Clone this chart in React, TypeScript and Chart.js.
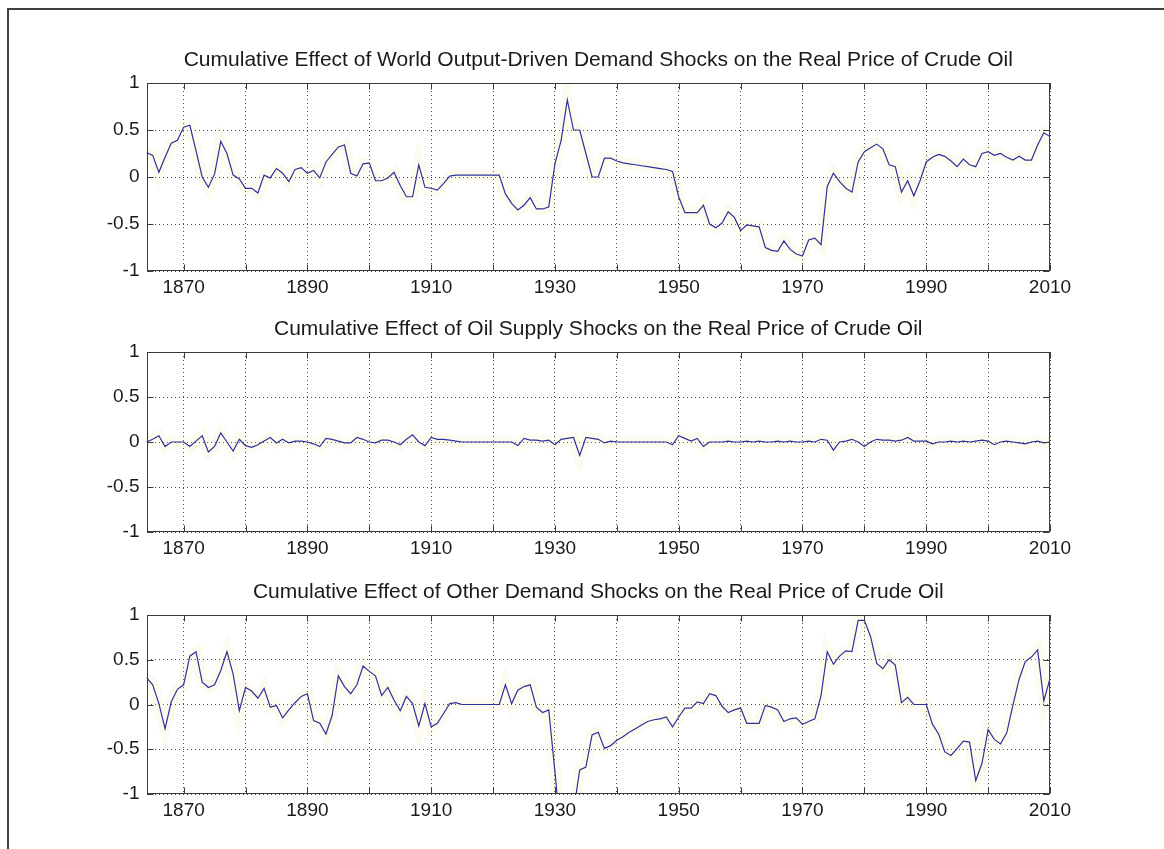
import React, { useEffect, useRef } from "react";
import { Chart, registerables } from "chart.js";

Chart.register(...registerables);

// ---------------- data ----------------
const FIRST_YEAR = 1864;
const LAST_YEAR = 2010;
const YEARS: number[] = [];
for (let y = FIRST_YEAR; y <= LAST_YEAR; y++) YEARS.push(y);

const X_TICKS = [1870, 1880, 1890, 1900, 1910, 1920, 1930, 1940, 1950, 1960, 1970, 1980, 1990, 2000, 2010];
const X_LABELS = [1870, 1890, 1910, 1930, 1950, 1970, 1990, 2010];
const Y_TICKS = [-1, -0.5, 0, 0.5, 1];

const TITLES = [
  "Cumulative Effect of World Output-Driven Demand Shocks on the Real Price of Crude Oil",
  "Cumulative Effect of Oil Supply Shocks on the Real Price of Crude Oil",
  "Cumulative Effect of Other Demand Shocks on the Real Price of Crude Oil",
];

// 1864 ... 2010
const WORLD_OUTPUT = [
  0.26, 0.23, 0.05, 0.21, 0.36, 0.39,
  0.53, 0.55, 0.28, 0.0, -0.11, 0.03, 0.38, 0.25, 0.02, -0.02,
  -0.12, -0.12, -0.17, 0.02, -0.01, 0.09, 0.04, -0.05, 0.08, 0.1,
  0.04, 0.07, -0.01, 0.16, 0.24, 0.32, 0.34, 0.04, 0.01, 0.14,
  0.15, -0.04, -0.04, -0.01, 0.05, -0.09, -0.21, -0.21, 0.13, -0.11,
  -0.12, -0.14, -0.07, 0.01, 0.02, 0.02, 0.02, 0.02, 0.02, 0.02,
  0.02, 0.02, -0.18, -0.28, -0.35, -0.3, -0.22, -0.34, -0.34, -0.32,
  0.14, 0.39, 0.82, 0.5, 0.5, 0.25, 0.0, 0.0, 0.2, 0.2,
  0.17, 0.15, 0.14, 0.13, 0.12, 0.11, 0.1, 0.09, 0.08, 0.06,
  -0.21, -0.38, -0.38, -0.38, -0.3, -0.5, -0.54, -0.49, -0.37, -0.43,
  -0.57, -0.51, -0.52, -0.53, -0.75, -0.78, -0.79, -0.68, -0.77, -0.82,
  -0.84, -0.67, -0.65, -0.72, -0.1, 0.04, -0.05, -0.12, -0.16, 0.16,
  0.27, 0.31, 0.35, 0.3, 0.13, 0.11, -0.16, -0.04, -0.2, -0.04,
  0.16, 0.21, 0.24, 0.22, 0.17, 0.11, 0.19, 0.13, 0.11, 0.25,
  0.27, 0.23, 0.25, 0.21, 0.18, 0.22, 0.18, 0.18, 0.34, 0.47,
  0.43,
];

const OIL_SUPPLY = [
  0.0, 0.03, 0.07, -0.05, 0.0, 0.0,
  0.0, -0.05, 0.01, 0.07, -0.11, -0.05, 0.1, 0.0, -0.1, 0.03,
  -0.04, -0.06, -0.03, 0.01, 0.05, -0.01, 0.03, -0.01, 0.01, 0.01,
  0.0, -0.02, -0.05, 0.04, 0.03, 0.01, -0.01, -0.01, 0.05, 0.03,
  0.0, -0.01, 0.02, 0.02, 0.0, -0.03, 0.03, 0.08, 0.0, -0.04,
  0.05, 0.03, 0.03, 0.02, 0.01, 0.0, 0.0, 0.0, 0.0, 0.0,
  0.0, 0.0, 0.0, 0.0, -0.04, 0.04, 0.02, 0.02, 0.01, 0.02,
  -0.03, 0.03, 0.04, 0.05, -0.15, 0.05, 0.04, 0.03, -0.01, 0.01,
  0.0, 0.0, 0.0, 0.0, 0.0, 0.0, 0.0, 0.0, 0.0, -0.03,
  0.07, 0.04, 0.01, 0.04, -0.05, 0.0, 0.0, 0.0, 0.01, 0.0,
  0.0, 0.01, 0.0, 0.01, 0.0, 0.0, 0.01, 0.0, 0.01, 0.0,
  0.0, 0.01, 0.0, 0.03, 0.02, -0.09, 0.0, 0.01, 0.03, 0.0,
  -0.05, 0.0, 0.03, 0.02, 0.02, 0.01, 0.02, 0.05, 0.01, 0.01,
  0.01, -0.02, 0.0, 0.0, 0.01, 0.0, 0.01, 0.0, 0.01, 0.02,
  0.01, -0.03, 0.0, 0.01, 0.0, -0.01, -0.02, 0.0, 0.01, -0.01,
  0.0,
];

const OTHER_DEMAND = [
  0.3, 0.22, 0.01, -0.27, 0.03, 0.17,
  0.22, 0.54, 0.59, 0.25, 0.19, 0.22, 0.38, 0.59, 0.34, -0.07,
  0.19, 0.15, 0.07, 0.18, -0.03, -0.01, -0.15, -0.06, 0.02, 0.09,
  0.12, -0.18, -0.21, -0.33, -0.12, 0.32, 0.2, 0.12, 0.22, 0.43,
  0.37, 0.32, 0.1, 0.19, 0.05, -0.07, 0.09, 0.01, -0.24, 0.01,
  -0.25, -0.21, -0.1, 0.01, 0.02, 0.0, 0.0, 0.0, 0.0, 0.0,
  0.0, 0.0, 0.22, 0.01, 0.16, 0.2, 0.22, -0.03, -0.09, -0.06,
  -0.75, -1.5, -1.6, -1.2, -0.73, -0.7, -0.34, -0.31, -0.49, -0.46,
  -0.4, -0.36, -0.31, -0.27, -0.23, -0.19, -0.17, -0.16, -0.14, -0.25,
  -0.14, -0.04, -0.04, 0.03, 0.01, 0.12, 0.1, -0.02, -0.09, -0.06,
  -0.04, -0.21, -0.21, -0.21, -0.01, -0.03, -0.06, -0.19, -0.16, -0.15,
  -0.22, -0.19, -0.16, 0.1, 0.59, 0.45, 0.54, 0.6, 0.59, 0.94,
  0.94, 0.76, 0.46, 0.4, 0.5, 0.44, 0.02, 0.08, 0.0, 0.0,
  0.0, -0.22, -0.33, -0.53, -0.57, -0.49, -0.41, -0.42, -0.85, -0.66,
  -0.28, -0.39, -0.44, -0.32, -0.01, 0.28, 0.48, 0.53, 0.61, 0.04,
  0.29,
];

const SERIES = [WORLD_OUTPUT, OIL_SUPPLY, OTHER_DEMAND];

// ---------------- styling / layout ----------------
const FONT = "'Liberation Sans', Arial, Helvetica, sans-serif";
const LINE_COLOR = "#30309a";
const HALO_COLOR = "rgba(240, 228, 160, 0.16)";
const TEXT_COLOR = "#1a1a1a";
const AXIS_COLOR = "#3a3a3a";
const GRID_COLOR = "rgba(40, 40, 40, 0.85)";
const W = 1164;
const AXES_LEFT = 146.5;
const AXES_RIGHT = 1050;
const TITLE_H = 60;
const XLAB_H = 45;
const TICK_LEN = 6;
const PANELS = [
  { top: 83, bottom: 271 },
  { top: 352, bottom: 532 },
  { top: 615, bottom: 794 },
];

const boxPlugin = {
  id: "matlabBox",
  afterDatasetsDraw(chart: any) {
    const { ctx, chartArea: a, scales } = chart;
    const l = Math.round(a.left) + 0.5;
    const r = Math.round(a.right) - 0.5;
    const t = Math.round(a.top) + 0.5;
    const b = Math.round(a.bottom) - 0.5;
    ctx.save();
    ctx.strokeStyle = AXIS_COLOR;
    ctx.lineWidth = 1;
    ctx.setLineDash([]);
    ctx.strokeRect(l, t, r - l, b - t);
    ctx.beginPath();
    for (const tk of scales.x.ticks) {
      const px = Math.round(scales.x.getPixelForValue(tk.value)) + 0.5;
      ctx.moveTo(px, t);
      ctx.lineTo(px, t + TICK_LEN);
      ctx.moveTo(px, b);
      ctx.lineTo(px, b - TICK_LEN);
    }
    for (const tk of scales.y.ticks) {
      const py = Math.round(scales.y.getPixelForValue(tk.value)) + 0.5;
      ctx.moveTo(l, py);
      ctx.lineTo(l + TICK_LEN, py);
      ctx.moveTo(r, py);
      ctx.lineTo(r - TICK_LEN, py);
    }
    ctx.stroke();
    ctx.restore();
  },
};

function Panel({ index }: { index: number }) {
  const ref = useRef<HTMLCanvasElement | null>(null);
  const p = PANELS[index];
  const h = p.bottom - p.top + TITLE_H + XLAB_H;

  useEffect(() => {
    const values = SERIES[index];
    const points = YEARS.map((yr, i) => ({ x: yr, y: values[i] }));
    const chart = new Chart(ref.current as HTMLCanvasElement, {
      type: "line",
      data: {
        datasets: [
          {
            data: points,
            borderColor: LINE_COLOR,
            borderWidth: 1.2,
            pointRadius: 0,
            tension: 0,
            clip: 0,
            order: 0,
          } as any,
          {
            data: points,
            borderColor: HALO_COLOR,
            borderWidth: 12,
            pointRadius: 0,
            tension: 0,
            clip: 0,
            order: 1,
          } as any,
        ],
      },
      options: {
        responsive: false,
        animation: false,
        events: [],
        layout: { padding: { left: 0, right: W - AXES_RIGHT, top: 0, bottom: 0 } },
        plugins: {
          legend: { display: false },
          tooltip: { enabled: false },
          title: {
            display: true,
            fullSize: false,
            text: TITLES[index],
            color: TEXT_COLOR,
            font: { family: FONT, size: 21, weight: "normal", lineHeight: 1.2 },
            padding: { top: TITLE_H - 21 * 1.2 - 10, bottom: 10 },
          },
        },
        scales: {
          x: {
            type: "linear",
            min: FIRST_YEAR,
            max: LAST_YEAR,
            afterBuildTicks: (s: any) => {
              s.ticks = X_TICKS.map((v) => ({ value: v }));
            },
            afterFit: (s: any) => {
              s.height = XLAB_H;
            },
            ticks: {
              autoSkip: false,
              maxRotation: 0,
              minRotation: 0,
              padding: 5,
              color: TEXT_COLOR,
              font: { family: FONT, size: 19, lineHeight: 1.2 },
              callback: (v: any) => (X_LABELS.includes(Number(v)) ? String(v) : ""),
            },
            grid: { color: GRID_COLOR, lineWidth: 1, drawTicks: false },
            border: { display: false, dash: [1, 3] },
          },
          y: {
            type: "linear",
            min: -1,
            max: 1,
            afterBuildTicks: (s: any) => {
              s.ticks = Y_TICKS.map((v) => ({ value: v }));
            },
            afterFit: (s: any) => {
              s.width = AXES_LEFT;
            },
            ticks: {
              padding: 7,
              color: TEXT_COLOR,
              font: { family: FONT, size: 19, lineHeight: 1.2 },
              callback: (v: any) => String(v),
            },
            grid: { color: GRID_COLOR, lineWidth: 1, drawTicks: false },
            border: { display: false, dash: [1, 3] },
          },
        },
      } as any,
      plugins: [boxPlugin],
    });
    return () => chart.destroy();
  }, [index]);

  return (
    <canvas
      ref={ref}
      width={W}
      height={h}
      style={{ position: "absolute", left: 0, top: p.top - TITLE_H, width: W, height: h }}
    />
  );
}

export default function App() {
  return (
    <div
      style={{
        position: "absolute",
        left: 0,
        top: 0,
        width: W,
        height: 849,
        overflow: "hidden",
        background: "#ffffff",
      }}
    >
      <div
        style={{
          position: "absolute",
          left: 7,
          top: 8,
          width: W + 20,
          height: 900,
          borderLeft: "2px solid #404040",
          borderTop: "2px solid #404040",
          boxSizing: "border-box",
        }}
      />
      <Panel index={0} />
      <Panel index={1} />
      <Panel index={2} />
    </div>
  );
}
